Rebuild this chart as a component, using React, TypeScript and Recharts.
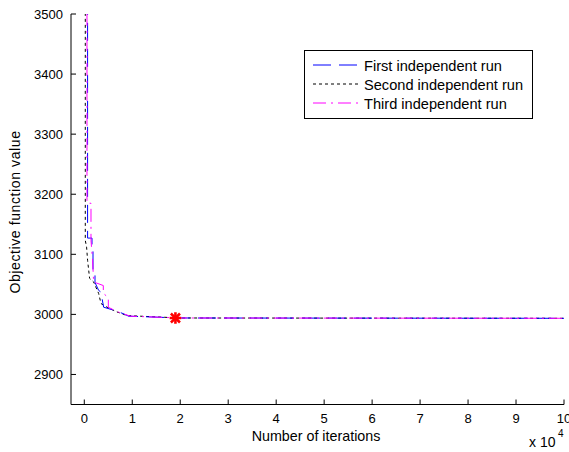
import React from 'react';
import { ComposedChart, Line, XAxis, YAxis, Scatter, Legend } from 'recharts';

// ---- data ----
const X_TICKS = [0, 10000, 20000, 30000, 40000, 50000, 60000, 70000, 80000, 90000, 100000];
const Y_TICKS = [2900, 3000, 3100, 3200, 3300, 3400, 3500];
const X_DOMAIN = [-2770, 100000];
const Y_DOMAIN = [2850, 3500];

const firstRunIter = [689, 689, 1608, 1608, 1817, 1817, 2234, 2234, 2986, 3487, 3696, 4030, 6118, 7872, 9250, 20000, 100000];
const firstRunValue = [5000, 3127, 3127, 3107, 3107, 3073, 3073, 3053, 3040, 3037, 3027, 3012, 3007, 3002, 2997, 2994, 2993.5];

const secondRunIter = [209, 209, 480, 689, 1107, 1942, 2986, 3487, 4740, 6828, 8916, 20000, 100000];
const secondRunValue = [5000, 3123, 3112, 3090, 3060, 3054, 3035, 3018, 3012, 3004, 2998, 2994, 2993.5];

const thirdRunIter = [564, 564, 1399, 1399, 1733, 1942, 3967, 3967, 5011, 5011, 6682, 9605, 20000, 100000];
const thirdRunValue = [5000, 3185, 3185, 3123, 3090, 3054, 3048, 3035, 3028, 3012, 3005, 2997, 2994, 2993.5];

const bestIter = [19000];
const bestValue = [2994];

const SERIES = [
  { name: 'First independent run', color: '#0000FF', dash: '18 8' },
  { name: 'Second independent run', color: '#000000', dash: '3 3' },
  { name: 'Third independent run', color: '#FF00FF', dash: '13 5 2 5' },
];

const toPoints = (xs: number[], ys: number[]) => xs.map((x, i) => ({ x, y: ys[i] }));
const first = toPoints(firstRunIter, firstRunValue);
const second = toPoints(secondRunIter, secondRunValue);
const third = toPoints(thirdRunIter, thirdRunValue);
const best = toPoints(bestIter, bestValue);

const FONT = '"Liberation Sans", Arial, sans-serif';
const LEGEND_ROWS = [15, 34, 53];

const LegendBox = () => (
  <svg width={230} height={70} style={{ display: 'block' }}>
    <rect x={0.5} y={0.5} width={228} height={68} fill="#fff" stroke="#000" strokeWidth={1} />
    {SERIES.map((s, i) => {
      const y = LEGEND_ROWS[i];
      return (
        <g key={s.name}>
          <line x1={9} x2={55} y1={y} y2={y} stroke={s.color} strokeWidth={1} strokeDasharray={s.dash} />
          <text x={60} y={y + 5.5} fontSize={14.6} fontFamily={FONT} fill="#000">{s.name}</text>
        </g>
      );
    })}
  </svg>
);

const StarMarker = (props: any) => {
  const { cx, cy } = props;
  const r = 4.5;
  const d = r * 0.8;
  return (
    <g stroke="#FF0000" strokeWidth={2.6} strokeLinecap="square">
      <line x1={cx - r} x2={cx + r} y1={cy} y2={cy} />
      <line x1={cx} x2={cx} y1={cy - r} y2={cy + r} />
      <line x1={cx - d} x2={cx + d} y1={cy - d} y2={cy + d} />
      <line x1={cx - d} x2={cx + d} y1={cy + d} y2={cy - d} />
    </g>
  );
};

export default function App() {
  const tickStyle = { fill: '#000', fontSize: 13, fontFamily: FONT };
  return (
    <div style={{ position: 'absolute', left: 0, top: 0, width: 569, height: 452, background: '#fff' }}>
      <ComposedChart width={569} height={452} margin={{ top: 14, right: 5, bottom: 0, left: 0 }}>
        <XAxis
          xAxisId="bottom"
          type="number"
          dataKey="x"
          domain={X_DOMAIN}
          ticks={X_TICKS}
          interval={0}
          allowDataOverflow
          height={47.5}
          tickSize={-5}
          tickMargin={14}
          stroke="#000"
          tick={tickStyle}
          tickFormatter={(v: number) => String(v / 10000)}
        />
        <XAxis
          xAxisId="top"
          orientation="top"
          type="number"
          dataKey="x"
          domain={X_DOMAIN}
          ticks={X_TICKS}
          interval={0}
          allowDataOverflow
          height={0}
          mirror
          tick={false}
          tickSize={5}
          stroke="#000"
        />
        <YAxis
          yAxisId="left"
          type="number"
          domain={Y_DOMAIN}
          ticks={Y_TICKS}
          interval={0}
          allowDataOverflow
          width={71}
          tickSize={-5}
          tickMargin={13}
          stroke="#000"
          tick={tickStyle}
        />
        <YAxis
          yAxisId="right"
          orientation="right"
          type="number"
          domain={Y_DOMAIN}
          ticks={Y_TICKS}
          interval={0}
          allowDataOverflow
          width={0}
          mirror
          tick={false}
          tickSize={5}
          stroke="#000"
        />
        <Line xAxisId="bottom" yAxisId="left" data={second} dataKey="y" type="linear" stroke={SERIES[1].color}
          strokeDasharray={SERIES[1].dash} strokeWidth={1} dot={false} isAnimationActive={false} name={SERIES[1].name} />
        <Line xAxisId="bottom" yAxisId="left" data={first} dataKey="y" type="linear" stroke={SERIES[0].color}
          strokeDasharray={SERIES[0].dash} strokeWidth={1} dot={false} isAnimationActive={false} name={SERIES[0].name} />
        <Line xAxisId="bottom" yAxisId="left" data={third} dataKey="y" type="linear" stroke={SERIES[2].color}
          strokeDasharray={SERIES[2].dash} strokeWidth={1} dot={false} isAnimationActive={false} name={SERIES[2].name} />
        <Scatter xAxisId="bottom" yAxisId="left" data={best} dataKey="y" shape={StarMarker} isAnimationActive={false} legendType="none" />
        <Legend
          layout="vertical"
          align="center"
          verticalAlign="middle"
          wrapperStyle={{ left: 304, top: 50, width: 230, height: 70 }}
          content={() => <LegendBox />}
        />
        <text x={316} y={441} textAnchor="middle" fontSize={14.3} fontFamily={FONT} fill="#000">Number of iterations</text>
        <text x={20} y={212} transform="rotate(-90 20 212)" textAnchor="middle" fontSize={14} letterSpacing={0.6} fontFamily={FONT} fill="#000">Objective function value</text>
        <text x={529} y={447} fontSize={14} fontFamily={FONT} fill="#000">x 10</text>
        <text x={558} y={437} fontSize={10} fontFamily={FONT} fill="#000">4</text>
      </ComposedChart>
    </div>
  );
}
